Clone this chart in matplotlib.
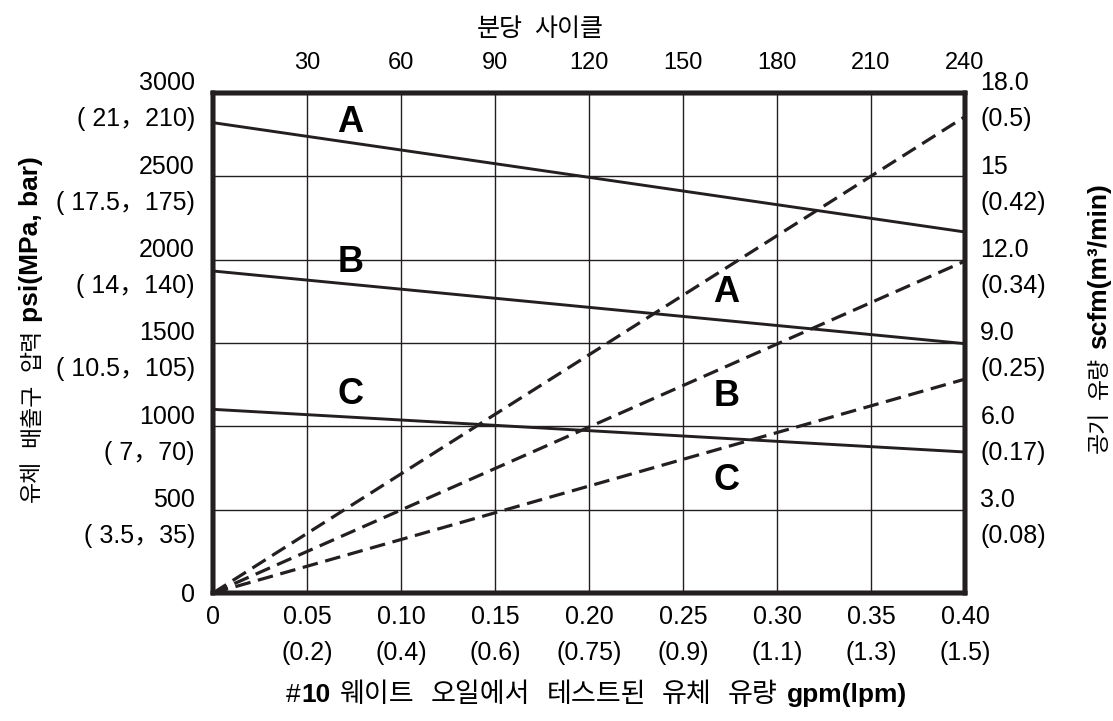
import matplotlib
matplotlib.use("Agg")
import matplotlib.pyplot as plt
from matplotlib.transforms import IdentityTransform

plt.rcParams['font.family'] = ['Liberation Sans', 'Noto Sans CJK KR', 'DejaVu Sans']

# data
gpm = [0.0, 0.40]
psi_A = [2822, 2166]
psi_B = [1932, 1496]
psi_C = [1102, 846]
scfm_A = [0.0, 17.15]
scfm_B = [0.0, 11.95]
scfm_C = [0.0, 7.7]

x_ticks = [0, 0.05, 0.10, 0.15, 0.20, 0.25, 0.30, 0.35, 0.40]
x_labels = ["0", "0.05\n(0.2)", "0.10\n(0.4)", "0.15\n(0.6)", "0.20\n(0.75)",
            "0.25\n(0.9)", "0.30\n(1.1)", "0.35\n(1.3)", "0.40\n(1.5)"]
psi_ticks = [0, 500, 1000, 1500, 2000, 2500, 3000]
psi_labels = ["0", "500\n( 3.5，35)", "1000\n( 7，70)", "1500\n( 10.5，105)",
              "2000\n( 14，140)", "2500\n( 17.5，175)", "3000\n( 21，210)"]
scfm_ticks = [3, 6, 9, 12, 15, 18]
scfm_labels = ["3.0\n(0.08)", "6.0\n(0.17)", "9.0\n(0.25)", "12.0\n(0.34)",
               "15\n(0.42)", "18.0\n(0.5)"]
cycle_ticks = [30, 60, 90, 120, 150, 180, 210, 240]

ink = "#231f20"
W, H = 1113, 721
LS = 1.63

fig = plt.figure(figsize=(W / 100, H / 100), dpi=100)
ax = fig.add_axes([213 / W, 128 / H, 752 / W, 500 / H])
ax.set_xlim(0, 0.4)
ax.set_ylim(0, 3000)
ax.set_xticks(x_ticks)
ax.set_xticklabels(x_labels, linespacing=LS)
ax.set_yticks(psi_ticks)
ax.set_yticklabels(psi_labels, linespacing=LS)
ax.grid(True, color=ink, lw=1.0)
ax.tick_params(axis='x', length=0, labelsize=18, pad=9)
ax.tick_params(axis='y', length=0, labelsize=18, pad=13)

ax.plot(gpm, psi_A, color=ink, lw=2.1)
ax.plot(gpm, psi_B, color=ink, lw=2.1)
ax.plot(gpm, psi_C, color=ink, lw=2.1)

ax2 = ax.twinx()
ax2.set_ylim(0, 18)
ax2.set_yticks(scfm_ticks)
ax2.set_yticklabels(scfm_labels, linespacing=LS)
ax2.tick_params(axis='y', length=0, labelsize=18, pad=11)
for y in (scfm_A, scfm_B, scfm_C):
    ax2.plot(gpm, y, color=ink, lw=2.3, dashes=(4.9, 2.4))

ax3 = ax.twiny()
ax3.set_xlim(0, 240)
ax3.set_xticks(cycle_ticks)
ax3.tick_params(axis='x', length=0, labelsize=17, pad=14)

for a in (ax, ax2, ax3):
    for s in a.spines.values():
        s.set_linewidth(3.2)
        s.set_color(ink)

# curve labels
for txt, x, y in [("A", 0.073, 2826), ("B", 0.073, 1980), ("C", 0.073, 1188),
                  ("A", 0.273, 1806), ("B", 0.273, 1182), ("C", 0.273, 678)]:
    ax.text(x, y, txt, fontsize=26, fontweight='bold', ha='center', va='center', color='black')


def mixed_label(pieces, center, base, vertical=False):
    # pieces: (text, bold, gap before, size) laid out one after the other
    r = fig.canvas.get_renderer()
    items = []
    for s, bold, gap, size in pieces:
        t = fig.text(0, 0, s, transform=IdentityTransform(), fontsize=size,
                     fontweight='bold' if bold else 'normal',
                     rotation=90 if vertical else 0, rotation_mode='anchor',
                     ha='left', va='baseline', color='black')
        bb = t.get_window_extent(r)
        items.append((t, gap, bb.height if vertical else bb.width))
    total = sum(g + L for _, g, L in items)
    pos = center - total / 2
    for t, gap, L in items:
        pos += gap
        t.set_position((base, pos) if vertical else (pos, base))
        pos += L


mixed_label([("#", False, 0, 19), ("10", True, 1, 19),
             ("웨이트", False, 10, 19.5), ("오일에서", False, 16, 19.5),
             ("테스트된", False, 16, 19.5), ("유체", False, 16, 19.5),
             ("유량", False, 16, 19.5), ("gpm(lpm)", True, 9, 19)],
            center=596, base=19)
mixed_label([("유체", False, 0, 16.5), ("배출구", False, 13, 16.5),
             ("압력", False, 13, 16.5), ("psi(MPa, bar)", True, 7, 19)],
            center=H - 329, base=38, vertical=True)
mixed_label([("공기", False, 0, 16.5), ("유량", False, 12, 16.5),
             ("scfm(m³/min)", True, 8, 19)],
            center=H - 318, base=1106, vertical=True)
mixed_label([("분당", False, 0, 18), ("사이클", False, 12, 18)],
            center=540, base=H - 36)

fig.savefig("out.png", dpi=100)
